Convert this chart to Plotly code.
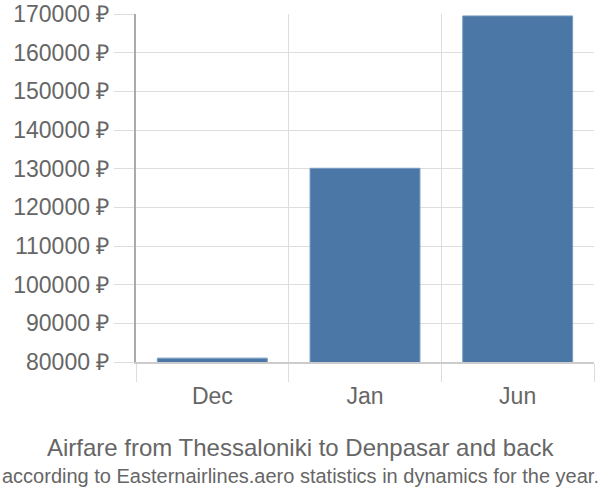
import plotly.graph_objects as go

months = ["Dec", "Jan", "Jun"]
prices = [81000, 130100, 169500]
y_ticks = [80000, 90000, 100000, 110000, 120000, 130000, 140000, 150000, 160000, 170000]
y_tick_labels = [f"{v} ₽" for v in y_ticks]
title = "Airfare from Thessaloniki to Denpasar and back"
subtitle = "according to Easternairlines.aero statistics in dynamics for the year."

W, H = 600, 500
ML, MR, MT, MB = 136, 6, 14, 138

fig = go.Figure(go.Bar(
    x=months, y=prices,
    marker=dict(color="#4a77a6", line=dict(color="#7a9cc2", width=1)),
))

plot_w = W - ML - MR
plot_h = H - MT - MB

def py(pix):
    return (H - MB - pix) / plot_h

def px(pix):
    return (pix - ML) / plot_w

fig.update_layout(
    width=W, height=H,
    margin=dict(l=ML, r=MR, t=MT, b=MB, autoexpand=False),
    paper_bgcolor="white", plot_bgcolor="white",
    bargap=0.28,
    showlegend=False,
    font=dict(family="Liberation Sans, Arial, sans-serif", color="#666"),
    xaxis=dict(
        type="category", tickson="boundaries", ticks="outside", ticklen=18,
        tickcolor="#dddddd", showgrid=True, gridcolor="#dddddd", gridwidth=1,
        showline=True, linecolor="#cccccc", linewidth=2,
        tickfont=dict(size=23, color="#666"), ticklabelstandoff=12,
        automargin=False,
    ),
    yaxis=dict(
        range=[80000, 170000], tickvals=y_ticks, ticktext=y_tick_labels,
        ticks="outside", ticklen=20, tickcolor="#dddddd",
        showgrid=True, gridcolor="#dddddd", gridwidth=1,
        showline=True, linecolor="#aaaaaa", linewidth=2,
        tickfont=dict(size=23, color="#666"), zeroline=False,
        automargin=False,
    ),
    annotations=[
        dict(text=title, x=px(300), y=py(447), xref="paper", yref="paper", showarrow=False,
             yanchor="middle", font=dict(size=24, color="#666")),
        dict(text=subtitle, x=px(300), y=py(476), xref="paper", yref="paper", showarrow=False,
             yanchor="middle", font=dict(size=20, color="#666")),
    ],
)

fig.write_html("out.html")
